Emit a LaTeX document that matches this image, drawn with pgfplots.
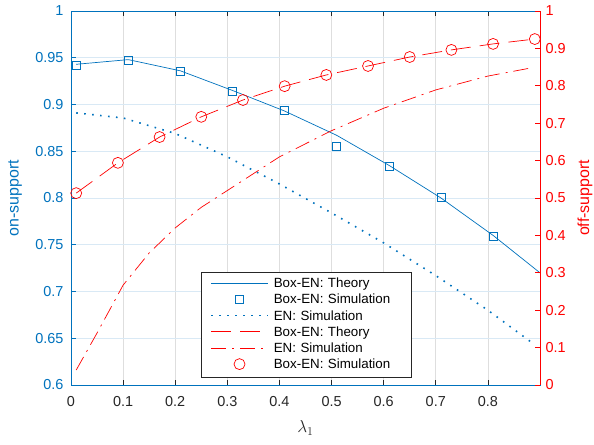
\documentclass[border=0pt]{standalone}
\usepackage{fontspec}
\setmainfont{Liberation Sans}
\usepackage{pgfplots}
\pgfplotsset{compat=1.18}

\definecolor{mblue}{rgb}{0,0.447,0.741}
\definecolor{axgray}{rgb}{0.15,0.15,0.15}
\definecolor{gridgray}{rgb}{0.87,0.87,0.87}
\definecolor{gridblue}{rgb}{0.85,0.915,0.96}

\pgfplotsset{
  myaxis/.style={
    scale only axis, width=469bp, height=374bp,
    at={(0,0)}, anchor=south west,
    xmin=0, xmax=0.9, clip=false,
    tick align=inside, major tick length=5bp,
    /pgf/number format/assume math mode=true,
    /pgf/number format/fixed,
    tick label style={font=\fontsize{14.5}{17}\selectfont},
    every tick/.style={line width=0.7bp},
  },
  lgline/.style={legend image code/.code={\draw (0bp,1bp) -- (57bp,1bp);}},
  lgmark/.style={legend image code/.code={\draw plot[only marks] coordinates {(28.5bp,1bp)};}},
}

\begin{document}
\begin{tikzpicture}
% left axis: on-support
\begin{axis}[myaxis,
  ymin=0.6, ymax=1,
  xtick={0,0.1,0.2,0.3,0.4,0.5,0.6,0.7,0.8},
  ytick={0.6,0.65,0.7,0.75,0.8,0.85,0.9,0.95,1},
  ytick pos=left,
  xmajorgrids, ymajorgrids,
  x grid style={gridgray, line width=0.7bp},
  y grid style={gridblue, line width=0.7bp},
  x axis line style={axgray, line width=0.7bp},
  y axis line style={mblue, line width=0.7bp},
  xtick style={axgray}, ytick style={mblue},
  xticklabel style={axgray, yshift=-8bp},
  yticklabel style={mblue, xshift=-4bp},
  xlabel={$\lambda_1$},
  ylabel={on-support},
  every axis x label/.style={at={(rel axis cs:0.5,-0.115)}, anchor=center, axgray,
    font=\fontsize{17}{20}\selectfont},
  every axis y label/.style={at={(rel axis cs:-0.119,0.5)}, anchor=center, rotate=90, mblue,
    font=\fontsize{16}{19}\selectfont},
]
% Box-EN: Theory
\addplot[mblue, line width=0.7bp, mark=none] coordinates {
  (0.01,0.943) (0.11,0.948) (0.21,0.936) (0.31,0.915) (0.41,0.893)
  (0.51,0.867) (0.61,0.835) (0.71,0.800) (0.81,0.760) (0.9,0.720)};
% Box-EN: Simulation
\addplot[mblue, only marks, mark=square, mark size=4bp, line width=0.7bp] coordinates {
  (0.01,0.942) (0.11,0.9476) (0.21,0.9358) (0.31,0.9144) (0.41,0.894)
  (0.51,0.8556) (0.61,0.8342) (0.71,0.801) (0.81,0.7594)};
% EN: Simulation
\addplot[mblue, line width=1.6bp, dash pattern=on 1.6bp off 6.4bp, mark=none] coordinates {
  (0.01,0.891) (0.1,0.8856) (0.2,0.869) (0.3,0.844) (0.4,0.815)
  (0.5,0.784) (0.6,0.752) (0.7,0.717) (0.8,0.680) (0.89,0.643)};
\end{axis}

% right axis: off-support
\begin{axis}[myaxis,
  ymin=0, ymax=1,
  axis x line=none, axis y line*=right,
  ytick={0,0.1,0.2,0.3,0.4,0.5,0.6,0.7,0.8,0.9,1},
  y axis line style={red, line width=0.7bp},
  ytick style={red},
  yticklabel style={red, xshift=2bp},
  ylabel={off-support},
  every axis y label/.style={at={(rel axis cs:1.096,0.5)}, anchor=center, rotate=90, red,
    font=\fontsize{16}{19}\selectfont},
  legend cell align=left,
  legend style={at={(0.277,0.02)}, anchor=south west,
    draw=axgray, fill=white, line width=0.6bp,
    inner xsep=9bp, inner ysep=4bp, row sep=0pt, column sep=5bp,
    font=\fontsize{13.4}{16}\selectfont,
    nodes={inner xsep=0pt, inner ysep=1.6bp, text height=10bp, text depth=3bp,
      text width=128bp, align=left, text=black}},
]
\addlegendimage{mblue, line width=0.7bp, lgline}
\addlegendentry{Box-EN: Theory}
\addlegendimage{mblue, mark=square, mark size=4bp, line width=0.7bp, lgmark}
\addlegendentry{Box-EN: Simulation}
\addlegendimage{mblue, line width=1.6bp, dash pattern=on 1.6bp off 6.4bp, lgline}
\addlegendentry{EN: Simulation}
% Box-EN: Theory
\addplot[red, line width=0.7bp, dash pattern=on 20bp off 9bp, mark=none, lgline] coordinates {
  (0.01,0.513) (0.09,0.594) (0.17,0.663) (0.25,0.717) (0.33,0.762) (0.41,0.799)
  (0.49,0.829) (0.57,0.853) (0.65,0.877) (0.73,0.896) (0.81,0.912) (0.89,0.925)};
\addlegendentry{Box-EN: Theory}
% EN: Simulation
\addplot[red, line width=0.7bp, dash pattern=on 15bp off 6bp on 2bp off 6bp, mark=none, lgline] coordinates {
  (0.01,0.04) (0.05,0.139) (0.1,0.267) (0.15,0.353) (0.2,0.42) (0.25,0.475)
  (0.3,0.52) (0.4,0.61) (0.5,0.68) (0.6,0.74) (0.7,0.789) (0.8,0.826) (0.88,0.847)};
\addlegendentry{EN: Simulation}
% Box-EN: Simulation
\addplot[red, only marks, mark=o, mark size=5.5bp, line width=0.7bp, lgmark] coordinates {
  (0.01,0.513) (0.09,0.594) (0.17,0.663) (0.25,0.717) (0.33,0.762) (0.41,0.799)
  (0.49,0.829) (0.57,0.853) (0.65,0.877) (0.73,0.896) (0.81,0.912) (0.89,0.925)};
\addlegendentry{Box-EN: Simulation}
\end{axis}

\pgfresetboundingbox
\path (-71bp,-60bp) rectangle (523bp,385bp);
\end{tikzpicture}
\end{document}
